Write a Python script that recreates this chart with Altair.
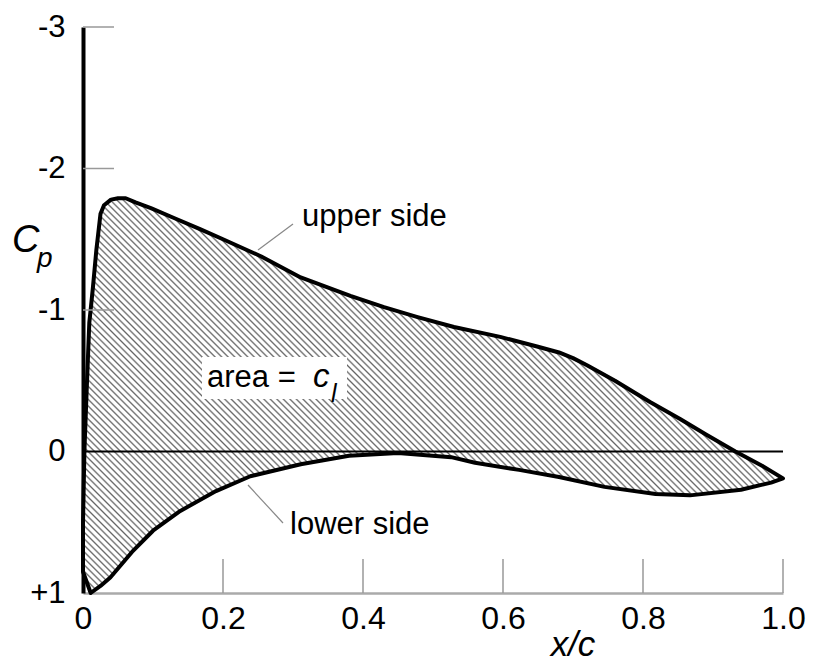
import altair as alt
import pandas as pd

# ---------------- data ----------------
# upper side, trailing edge -> leading edge
upper_x = [1.0, 0.97, 0.932, 0.89, 0.853, 0.81, 0.76, 0.72, 0.70, 0.68, 0.65, 0.596, 0.53,
           0.478, 0.43, 0.382, 0.311, 0.254, 0.20, 0.168, 0.13, 0.097, 0.075,
           0.061, 0.05, 0.04, 0.03, 0.025, 0.019, 0.014, 0.009, 0.005, 0.002,
           0.0, 0.0]
upper_cp = [0.19, 0.10, 0.0, -0.12, -0.23, -0.35, -0.50, -0.61, -0.66, -0.70, -0.74, -0.81, -0.88,
            -0.95, -1.02, -1.10, -1.23, -1.38, -1.50, -1.57, -1.65, -1.72, -1.76,
            -1.79, -1.79, -1.78, -1.74, -1.68, -1.42, -1.15, -0.91, -0.40, 0.0,
            0.50, 0.85]
# lower side, leading edge -> trailing edge
lower_x = [0.011, 0.025, 0.039, 0.07, 0.10, 0.139, 0.19, 0.239, 0.311, 0.38,
           0.45, 0.526, 0.56, 0.623, 0.68, 0.745, 0.818, 0.867, 0.94, 0.983]
lower_cp = [1.0, 0.95, 0.89, 0.71, 0.56, 0.42, 0.28, 0.175, 0.09, 0.03,
            0.01, 0.04, 0.08, 0.13, 0.18, 0.25, 0.30, 0.31, 0.27, 0.22]

y_ticks = [-3, -2, -1, 0, 1]
y_inner_ticks = [-3, -2, -1]
x_ticks = [0, 0.2, 0.4, 0.6, 0.8, 1.0]
x_inner_ticks = [0.2, 0.4, 0.6, 0.8, 1.0]
zero_line = [0.0, 1.0]

txt_upper = "upper side"
txt_lower = "lower side"
txt_area = "area ="
txt_c = "c"
txt_l = "l"
txt_C = "C"
txt_p = "p"
txt_xc = "x/c"

# ---------------- layout ----------------
PW, PH = 700, 566
X_DOM, Y_DOM = [0, 1], [-3, 1]
FONT = "Liberation Sans"
TOP = 19

poly = pd.DataFrame({
    "x": upper_x + lower_x,
    "cp": upper_cp + lower_cp,
    "o": list(range(len(upper_x) + len(lower_x))),
})

# hatch (\\\\ lines) built as a striped linear gradient over the polygon's bbox
W = (max(poly.x) - min(poly.x)) * PW / (X_DOM[1] - X_DOM[0])
H = (max(poly.cp) - min(poly.cp)) * PH / (Y_DOM[1] - Y_DOM[0])
r = H / W
c = (1 + r) / (1 + r * r)
length = (W + H) / 2 ** 0.5
period = 4.6
n = int(length / period)
stops = []
for k in range(n):
    stops.append(alt.GradientStop(offset=k / n, color="#ffffff"))
    stops.append(alt.GradientStop(offset=(k + 0.22) / n, color="#ffffff"))
    stops.append(alt.GradientStop(offset=(k + 0.5) / n, color="#666666"))
    stops.append(alt.GradientStop(offset=(k + 0.78) / n, color="#ffffff"))
stops.append(alt.GradientStop(offset=1.0, color="#ffffff"))
hatch = alt.LinearGradient(gradient="linear", stops=stops,
                           x1=0, y1=1, x2=c, y2=1 - c * r)

xs = alt.Scale(domain=X_DOM, nice=False, zero=False)
ys = alt.Scale(domain=Y_DOM, nice=False, zero=False, reverse=True)

x_axis = alt.Axis(values=x_ticks, title=None, grid=False, ticks=False, tickSize=0,
                  labelExpr="datum.value == 0 ? '0' : format(datum.value, '.1f')",
                  labelFont=FONT, labelFontSize=32, labelColor="black",
                  labelPadding=10, labelFlush=False, labelOverlap=False,
                  domainColor="#aaaaaa", domainWidth=2.5)
y_axis = alt.Axis(values=y_ticks, title=None, grid=False, ticks=False, tickSize=0,
                  labelExpr="datum.value > 0 ? '+' + datum.value : (datum.value < 0 ? '-' + abs(datum.value) : '0')",
                  labelFont=FONT, labelFontSize=31, labelColor="black",
                  labelPadding=18, labelFlush=False, labelOverlap=False,
                  domainColor="black", domainWidth=4)

shape = alt.Chart(poly).mark_line(
    interpolate="linear-closed", fill=hatch, stroke="black",
    strokeWidth=4, strokeJoin="round"
).encode(
    x=alt.X("x:Q", scale=xs, axis=x_axis),
    y=alt.Y("cp:Q", scale=ys, axis=y_axis),
    order="o:O",
)

zero = alt.Chart(pd.DataFrame({"x": [zero_line[0]], "x2": [zero_line[1]], "cp": [0]})).mark_rule(
    color="black", strokeWidth=2.2
).encode(x=alt.X("x:Q", scale=xs, axis=x_axis), x2="x2:Q",
         y=alt.Y("cp:Q", scale=ys, axis=y_axis))

yt = alt.Chart(pd.DataFrame({"cp": y_inner_ticks})).mark_rule(
    color="#999999", strokeWidth=1.5
).encode(y=alt.Y("cp:Q", scale=ys, axis=y_axis), x=alt.value(0), x2=alt.value(31))

xt = alt.Chart(pd.DataFrame({"x": x_inner_ticks})).mark_rule(
    color="#999999", strokeWidth=1.5
).encode(x=alt.X("x:Q", scale=xs, axis=x_axis), y=alt.value(PH), y2=alt.value(PH - 34))

dy = 16 - TOP
box = alt.Chart(pd.DataFrame({"a": [0]})).mark_rect(color="white").encode(
    x=alt.value(119), x2=alt.value(264), y=alt.value(333 + dy), y2=alt.value(375 + dy))


def label(t, x, y, size=31, style="normal", align="left"):
    return alt.Chart(pd.DataFrame({"t": [t]})).mark_text(
        font=FONT, fontSize=size, fontStyle=style, align=align,
        baseline="alphabetic", color="black"
    ).encode(text="t:N", x=alt.value(x), y=alt.value(y + dy))


def leader(x1, y1, x2, y2):
    return alt.Chart(pd.DataFrame({"a": [0]})).mark_rule(
        color="#888888", strokeWidth=1.2
    ).encode(x=alt.value(x1), y=alt.value(y1 + dy), x2=alt.value(x2), y2=alt.value(y2 + dy))


chart = alt.layer(
    shape, zero, yt, xt, box,
    label(txt_area, 124, 363),
    label(txt_c, 230, 363, size=33, style="italic"),
    label(txt_l, 248, 378, size=25, style="italic"),
    label(txt_upper, 219, 202),
    leader(210, 200, 175, 226),
    label(txt_lower, 207, 510),
    leader(200, 499, 165, 461),
    label(txt_C, -71, 228, size=38, style="italic"),
    label(txt_p, -46, 243, size=28, style="italic"),
    label(txt_xc, 490, 632, size=35, style="italic", align="center"),
).properties(
    width=PW, height=PH,
    autosize=alt.AutoSizeParams(type="none"),
    padding={"left": 75, "top": TOP, "right": 26, "bottom": 654 - TOP - PH},
).configure_view(strokeWidth=0)

chart.save("out.html", embed_options={"renderer": "svg", "actions": False})
